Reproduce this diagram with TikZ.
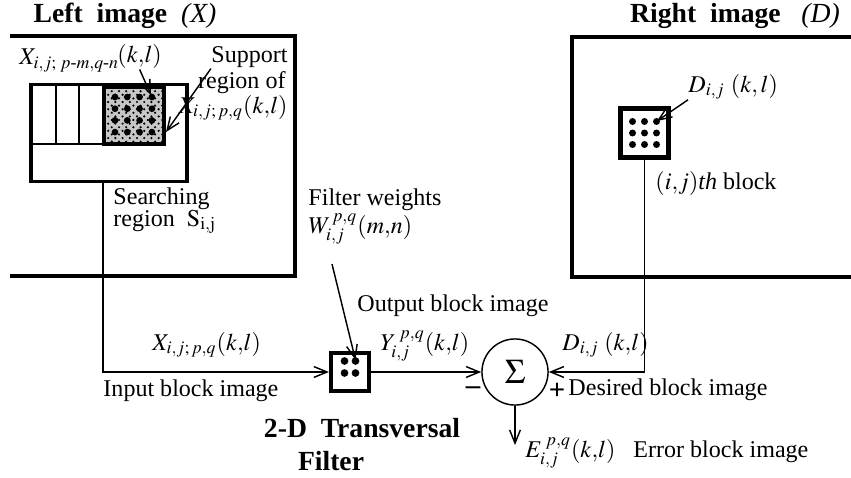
\documentclass[tikz,border=0pt]{standalone}
\usepackage{amsmath}
\usepackage{mathptmx}
\usepackage{fontspec}
\setmainfont{Liberation Serif}
\usetikzlibrary{arrows.meta,patterns}
\tikzset{
  frame/.style={line width=1.3pt},
  wire/.style={line width=0.6pt},
  blk/.style={draw,inner sep=0pt},
  lbl/.style={inner sep=0pt,anchor=base west},
  ttl/.style={font=\fontsize{11.5}{14}\selectfont\bfseries},
}
\begin{document}
\begin{tikzpicture}[x=0.416pt,y=-0.416pt,>={Straight Barb[length=5.5pt,width=4.5pt]}]
\useasboundingbox (0,0) rectangle (851,477);
% titles
\node[ttl] (ltitle) at (125,16) {Left\ \ image\ \ \textmd{\textit{(X)}}};
\node[ttl] (rtitle) at (735,16) {Right\ \ image\ \ \ \textmd{\textit{(D)}}};
% image frames
\draw[frame] (10,36) -- (295,36) -- (295,276) -- (10,276);
\draw[frame] (851,37) -- (572,37) -- (572,277) -- (851,277);
% searching region
\node[blk,frame,minimum width=64.9pt,minimum height=40pt] (sreg) at (109,133) {};
\draw[line width=0.9pt] (31,144) -- (102,144) (56,85) -- (56,144) (79,85) -- (79,144);
\node[blk,line width=1.6pt,preaction={fill=black!22},pattern=crosshatch dots,minimum width=25pt,minimum height=23.7pt] (supp) at (134,115.5) {};
\foreach \i in {0,...,3}
  \foreach \j in {0,...,3}
    \fill (115+12.3*\i,97+11.7*\j) circle (1.4pt);
\coordinate (kl) at (151,95);
\coordinate (stip) at (166,132);
\node[lbl] (xmn) at (19,65) {$X_{i{,}j{;}\;p\text{-}m{,}q\text{-}n}$};
\node[lbl] (klab) at (117,63) {$(k{,}l)$};
\draw[wire,->] (klab.south) -- (kl);
\node[lbl,anchor=base east] (supt1) at (288,63) {Support};
\node[lbl,anchor=base east] (supt2) at (286,89) {region of};
\node[lbl,anchor=base east] (supt3) at (288,113) {$X_{i{,}j{;}\,p{,}q}(k{,}l)$};
\draw[wire,->] (supt1.south west) -- (stip);
\node[lbl] (srch1) at (113,204) {Searching};
\node[lbl] (srch2) at (113,226) {region\ \ $\mathrm{S}_{\mathrm{i,j}}$};
% right image block
\node[blk,line width=2.1pt,minimum size=20pt] (dblk) at (644.5,133) {};
\foreach \i in {-1,0,1}
  \foreach \j in {-1,0,1}
    \fill (644.5+12*\i,133+11.5*\j) circle (1.45pt);
\coordinate (dtr) at (657,121);
\node[lbl] (dlab) at (688,92) {$D_{i{,}j}\ (k{,}\,l)$};
\draw[wire,->] (dlab.south west) -- (dtr);
\node[lbl] (ijb) at (655,189) {$(i{,}j)$\textit{th} block};
% filter weights
\node[lbl] (fw1) at (308,205) {Filter weights};
\node[lbl] (fw2) at (308,233) {$W_{i{,}j}^{\,p{,}q}(m{,}n)$};
\coordinate (wtail) at (332,264);
% transversal filter
\node[blk,line width=1.7pt,minimum size=15.8pt] (filt) at (350,372) {};
\foreach \i in {-1,1}
  \foreach \j in {-1,1}
    \fill (350+5.5*\i,367+6*\j) circle (1.6pt);
\coordinate (wtip) at (355.5,360);
\draw[wire,->] (wtail) -- (wtip);
\node[ttl] (tf1) at (362,428) {2-D\ \ Transversal};
\node[ttl] (tf2) at (331,461) {Filter};
% summing node
\node[draw,circle,wire,minimum size=27.5pt,inner sep=0pt,font=\Large] (sum) at (515,372) {$\Sigma$};
\node[font=\bfseries\large,inner sep=0pt] (minus) at (473,391) {--};
\node[font=\bfseries\large,inner sep=0pt] (plus) at (557,391) {+};
\coordinate (etip) at (515,445);
% connectors
\draw[wire,->] (sreg.south -| 103,0) |- (filt.west);
\draw[wire,->] (filt.east) -- (sum.west);
\draw[wire,->] (dblk.south) |- (sum.east);
\draw[wire,->] (sum.south) -- (etip);
% signal labels
\node[lbl] (xin) at (152,350) {$X_{i{,}j{;}\,p{,}q}(k{,}l)$};
\node[lbl] (inb) at (103,396) {Input block image};
\node[lbl] (outb) at (357,311) {Output block image};
\node[lbl] (ylab) at (380,350) {$Y_{i{,}j}^{\;p{,}q}(k{,}l)$};
\node[lbl] (dlab2) at (562,350) {$D_{i{,}j}\;(k{,}l)$};
\node[lbl] (desb) at (568,395) {Desired block image};
\node[lbl] (elab) at (525,457) {$E_{i{,}j}^{\;p{,}q}(k{,}l)$};
\node[lbl] (errb) at (633,457) {Error block image};
\end{tikzpicture}
\end{document}
